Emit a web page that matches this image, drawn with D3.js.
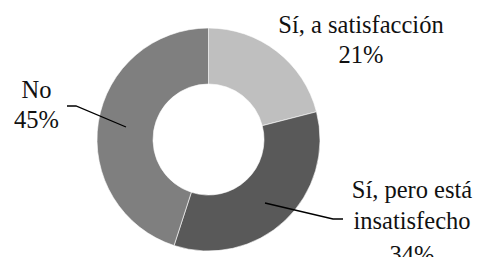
<!DOCTYPE html>
<html><head><meta charset="utf-8">
<script src="https://cdn.jsdelivr.net/npm/d3@7"></script>
<style>html,body{margin:0;padding:0;background:#fff;}svg{display:block;}
.lbl{font-family:"Liberation Serif","Times New Roman",Tinos,"Noto Serif","DejaVu Serif",serif;font-size:24.5px;fill:#111;}</style>
</head><body>
<svg id="c" width="478" height="257"></svg>
<script>
const categories = ["Sí, a satisfacción", "Sí, pero está insatisfecho", "No"];
const values = [21, 34, 45];
const colors = ["#bfbfbf", "#595959", "#7f7f7f"];
const labelLines = [["Sí, a satisfacción", "21%"], ["Sí, pero está", "insatisfecho", "34%"], ["No", "45%"]];

const svg = d3.select("#c");
const cx = 208.5, cy = 139.5, rOut = 111.5, rIn = 55.5;
const g = svg.append("g").attr("transform", `translate(${cx},${cy})`);
const pie = d3.pie().sort(null).value(d => d)(values);
const arc = d3.arc().innerRadius(rIn).outerRadius(rOut);
g.selectAll("path").data(pie).enter().append("path")
  .attr("d", arc).attr("fill", (d, i) => colors[i])
  .attr("stroke", "#fff").attr("stroke-width", 0.6);

const labelPos = [{x: 361, y: 33}, {x: 412, y: 198}, {x: 36.5, y: 98}];
const lineGap = [[30], [31, 34], [30]];
const leaders = [null, [[265, 203], [333, 219], [343, 219]], [[126, 127], [76, 106], [67, 106]]];
leaders.forEach(l => {
  if (!l) return;
  svg.append("path").attr("d", d3.line()(l)).attr("fill", "none")
    .attr("stroke", "#000").attr("stroke-width", 1.3);
});
labelLines.forEach((lines, i) => {
  const t = svg.append("text").attr("class", "lbl").attr("text-anchor", "middle");
  let y = labelPos[i].y;
  lines.forEach((s, j) => {
    if (j > 0) y += lineGap[i][j - 1];
    t.append("tspan").attr("x", labelPos[i].x).attr("y", y).text(s);
  });
});
</script>
</body></html>
